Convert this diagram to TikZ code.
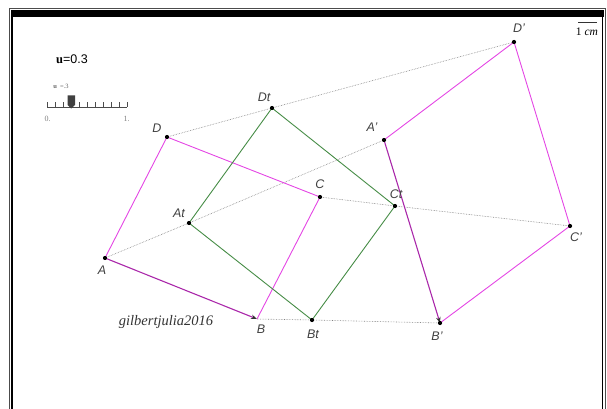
\documentclass[tikz,border=0pt]{standalone}
\usepackage{fontspec}
\setmainfont{Liberation Serif}
\setsansfont{Liberation Sans}
\usetikzlibrary{arrows.meta}
\definecolor{mag}{RGB}{228,70,228}
\definecolor{vec}{RGB}{170,40,170}
\definecolor{grn}{RGB}{70,140,70}
\tikzset{
  side/.style={mag, line width=0.9pt},
  vecline/.style={vec, line width=1.1pt, -{Stealth[length=6pt,width=4.5pt,black!80]}},
  gside/.style={grn, line width=0.9pt},
  trace/.style={gray, densely dotted, line width=0.6pt},
  lbl/.style={font=\sffamily\itshape\fontsize{12.5}{13}\selectfont, text=black!75, inner sep=0pt},
  dot/.style={circle, fill=black, inner sep=0pt, minimum size=4.2pt}
}
\begin{document}
\begin{tikzpicture}[x=1pt,y=-1pt]
\useasboundingbox (0,0) rectangle (607,409);
% frame
\draw[black!70, line width=0.8pt] (9,409) -- (9,8.5) -- (605.5,8.5) -- (605.5,409);
\fill[black] (11,10.5) rectangle (603.5,17);
\draw[black, line width=1.6pt] (12,17) -- (12,409);
\draw[black, line width=1.6pt] (602.5,17) -- (602.5,409);

% points
\coordinate (A) at (105,258);
\coordinate (B) at (257,319);
\coordinate (C) at (320,197);
\coordinate (D) at (167,137);
\coordinate (A1) at (384,140);
\coordinate (B1) at (440,323);
\coordinate (C1) at (570,226);
\coordinate (D1) at (514,42);
\coordinate (At) at (189,223);
\coordinate (Bt) at (312,320);
\coordinate (Ct) at (395,206);
\coordinate (Dt) at (272,108);

% traces
\draw[trace] (A) -- (At) -- (A1);
\draw[trace] (B) -- (Bt) -- (B1);
\draw[trace] (C) -- (Ct) -- (C1);
\draw[trace] (D) -- (Dt) -- (D1);

% squares
\draw[side] (B) -- (C) -- (D) -- (A);
\draw[vecline] (A) -- (B);
\draw[side] (B1) -- (C1) -- (D1) -- (A1);
\draw[vecline] (A1) -- (B1);
\draw[gside] (At) -- (Bt) -- (Ct) -- (Dt) -- cycle;

% dots
\foreach \p in {A,C,D,A1,B1,C1,D1,At,Bt,Ct,Dt}
  \node[dot] at (\p) {};

% labels
\node[lbl] (lA) at (102,270) {A};
\node[lbl] (lB) at (261,329) {B};
\node[lbl] (lC) at (320,184) {C};
\node[lbl] (lD) at (157,128) {D};
\node[lbl] (lA1) at (372,127) {A'};
\node[lbl] (lB1) at (437,336) {B'};
\node[lbl] (lC1) at (576,237) {C'};
\node[lbl] (lD1) at (519,28) {D'};
\node[lbl] (lAt) at (179,213) {At};
\node[lbl] (lBt) at (313,334) {Bt};
\node[lbl] (lCt) at (396,194) {Ct};
\node[lbl] (lDt) at (264,97) {Dt};

% value
\node[inner sep=0pt] (uval) at (72,59) {\fontsize{12.5}{13}\selectfont\textbf{u}\sffamily=0.3};

% slider
\draw[black!70, line width=0.9pt] (47,107) -- (127,107);
\foreach \i in {0,...,10} {
  \pgfmathsetmacro{\xx}{47+8*\i}
  \draw[black!70, line width=0.7pt] (\xx,107) -- (\xx,102.5);
}
\fill[black!75] (67.5,95.5) -- (75,95.5) -- (75,105) -- (71.25,108.5) -- (67.5,105) -- cycle;
\node[inner sep=0pt, text=black!60] (ulab) at (61,86) {\fontsize{6.5}{7}\selectfont\textbf{u}\ \ =.3};
\node[inner sep=0pt, text=black!50] (s0) at (47.5,119) {\fontsize{8}{9}\selectfont 0.};
\node[inner sep=0pt, text=black!50] (s1) at (126.5,119) {\fontsize{8}{9}\selectfont 1.};

% scale
\draw[black!80, line width=0.6pt] (578,22) -- (597,22);
\node[inner sep=0pt] (cm) at (587,32) {\fontsize{11.5}{12}\selectfont 1 \textit{cm}};

% signature
\node[inner sep=0pt, text=black!80] (sig) at (166,322) {\fontsize{14.5}{15}\selectfont\itshape gilbertjulia2016};
\end{tikzpicture}
\end{document}
